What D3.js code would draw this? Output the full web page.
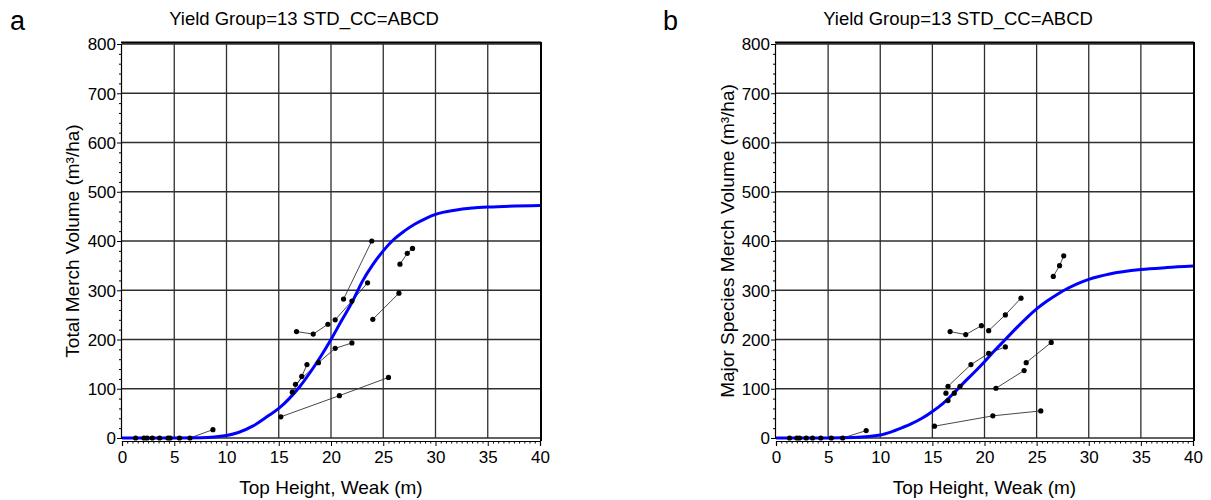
<!DOCTYPE html>
<html><head><meta charset="utf-8">
<script src="https://cdn.jsdelivr.net/npm/d3@7"></script>
<style>body{margin:0;background:#fff}svg{display:block}text{font-family:"Liberation Sans",Arial,sans-serif;fill:#000}</style>
</head><body><svg id="c" width="1211" height="500"></svg>
<script>
const titleText = "Yield Group=13 STD_CC=ABCD";
const xLabel = "Top Height, Weak (m)";
const yLabelA = "Total Merch Volume (m³/ha)";
const yLabelB = "Major Species Merch Volume (m³/ha)";
const xTicks = [0,5,10,15,20,25,30,35,40];
const yTicks = [0,100,200,300,400,500,600,700,800];

// fitted yield curves [height, volume]
const curveA = [[0,0],[5,0],[7.5,0.5],[10,5],[12.5,24],[14,45],[15,60],[16,80],[17,104],[18,133],[19,165],[20,200],[21,238],[22,275],[23,318],[24,352],[25,380],[26,403],[27,420],[28,434],[29,445],[30,454],[32,463],[35,469],[40,472]];
const curveB = [[0,0],[5,0],[7.5,1],[10,6],[11,12],[12,20],[13,29],[14,40],[15,54],[16,70],[17,90],[18,112],[19,133],[20,155],[21,178],[22,200],[23,222],[24,243],[25,262],[26,278],[27,292],[28,304],[29,314],[30,322],[32,333],[35,342],[37.5,346],[40,349]];

// observed plots (each series is one plot re-measured)
const plotsA = [
  [[1.3,0]],[[2.1,0]],[[2.4,0]],[[2.9,0]],[[3.6,0]],[[4.4,0]],[[4.6,0]],[[5.5,0]],
  [[6.5,0],[8.7,17]],
  [[15.2,43],[20.8,86],[25.5,123]],
  [[16.3,93],[17.2,125],[17.7,149]],
  [[16.6,109],[18.8,153],[20.4,182],[22.0,193]],
  [[16.7,216],[18.3,211],[19.7,231]],
  [[20.4,240],[22.0,278],[23.5,315]],
  [[21.2,282],[23.9,400]],
  [[24.0,241],[26.5,294]],
  [[26.6,353],[27.3,375],[27.8,385]]
];
const plotsB = [
  [[1.3,0]],[[2.0,0]],[[2.25,0]],[[2.9,0]],[[3.5,0]],[[4.3,0]],[[5.3,0]],
  [[6.4,0],[8.65,15]],
  [[15.2,24],[20.8,45],[25.4,55]],
  [[16.5,76],[17.1,91],[17.65,105]],
  [[16.5,105],[18.7,149],[20.4,172],[22.0,185]],
  [[16.3,91]],
  [[16.7,216],[18.2,210],[19.7,228]],
  [[20.4,218],[22.0,250],[23.5,284]],
  [[21.1,101],[23.8,137]],
  [[24.0,153],[26.4,194]],
  [[26.6,328],[27.2,350],[27.6,370]]
];

const svg = d3.select("#c");

function panel(opt){
  const g = svg.append("g");
  const x = d3.scaleLinear().domain([0,40]).range([opt.x0, opt.x1]);
  const y = d3.scaleLinear().domain([0,800]).range([438, 44]);
  // grid
  g.append("g").selectAll("line").data(xTicks.slice(1,-1)).join("line")
    .attr("x1",d=>x(d)).attr("x2",d=>x(d)).attr("y1",y(0)).attr("y2",y(800))
    .attr("stroke","#2e2e2e").attr("stroke-width",1.3);
  g.append("g").selectAll("line").data(yTicks).join("line")
    .attr("x1",x(0)).attr("x2",x(40)).attr("y1",d=>y(d)).attr("y2",d=>y(d))
    .attr("stroke","#2e2e2e").attr("stroke-width",1.3);
  // frame top/right
  g.append("line").attr("x1",x(0)-1).attr("x2",x(40)+1).attr("y1",y(800)-1.5).attr("y2",y(800)-1.5).attr("stroke","#000").attr("stroke-width",2);
  g.append("line").attr("x1",x(40)+1).attr("x2",x(40)+1).attr("y1",y(800)-2).attr("y2",y(0)+3).attr("stroke","#000").attr("stroke-width",2);
  // y axis
  const ya = g.append("g").attr("transform",`translate(${x(0)-1},0)`)
    .call(d3.axisLeft(y).tickValues(yTicks).tickSize(4).tickPadding(1));
  ya.select(".domain").attr("stroke","#000").attr("stroke-width",1.2);
  ya.selectAll("text").style("font-size","17px").attr("dy","0.35em");
  g.append("g").attr("transform",`translate(${x(0)-1},0)`)
    .call(d3.axisLeft(y).tickValues(d3.range(0,801,20).filter(v=>v%100)).tickSize(2).tickFormat(""))
    .select(".domain").remove();
  // x axis
  const xa = g.append("g").attr("transform",`translate(0,${y(0)+3})`)
    .call(d3.axisBottom(x).tickValues(xTicks).tickSize(5).tickPadding(5));
  xa.select(".domain").attr("stroke","#000").attr("stroke-width",1.2);
  xa.selectAll("text").style("font-size","17px");
  g.append("g").attr("transform",`translate(0,${y(0)+3})`)
    .call(d3.axisBottom(x).tickValues(d3.range(0,40.01,0.5).filter(v=>v%5)).tickSize(2.5).tickFormat(""))
    .select(".domain").remove();
  // observed plots
  const line = d3.line().x(d=>x(d[0])).y(d=>y(d[1]));
  g.append("g").selectAll("path").data(opt.plots.filter(s=>s.length>1)).join("path")
    .attr("d",line).attr("fill","none").attr("stroke","#333").attr("stroke-width",0.9);
  // fitted curve
  g.append("path").datum(opt.curve)
    .attr("d",d3.line().curve(d3.curveMonotoneX).x(d=>x(d[0])).y(d=>y(d[1])))
    .attr("fill","none").attr("stroke","#0000ff").attr("stroke-width",3);
  g.append("g").selectAll("circle").data(opt.plots.flat()).join("circle")
    .attr("cx",d=>x(d[0])).attr("cy",d=>y(d[1])).attr("r",2.6).attr("fill","#000");
  // texts
  g.append("text").attr("x",opt.titleX).attr("y",25).attr("text-anchor","middle")
    .style("font-size","18.5px").text(titleText);
  g.append("text").attr("x",opt.letterX).attr("y",30).style("font-size","27px").text(opt.letter);
  g.append("text").attr("x",(opt.x0+opt.x1)/2).attr("y",494).attr("text-anchor","middle")
    .style("font-size","19px").text(xLabel);
  g.append("text").attr("transform",`translate(${opt.yLabX},${(y(0)+y(800))/2}) rotate(-90)`)
    .attr("text-anchor","middle").style("font-size","19px").text(opt.yLabel);
}

panel({x0:122,x1:540,titleX:304,curve:curveA,plots:plotsA,letter:"a",letterX:10,yLabel:yLabelA,yLabX:79});
panel({x0:776,x1:1193,titleX:958,curve:curveB,plots:plotsB,letter:"b",letterX:663,yLabel:yLabelB,yLabX:734});
</script></body></html>
